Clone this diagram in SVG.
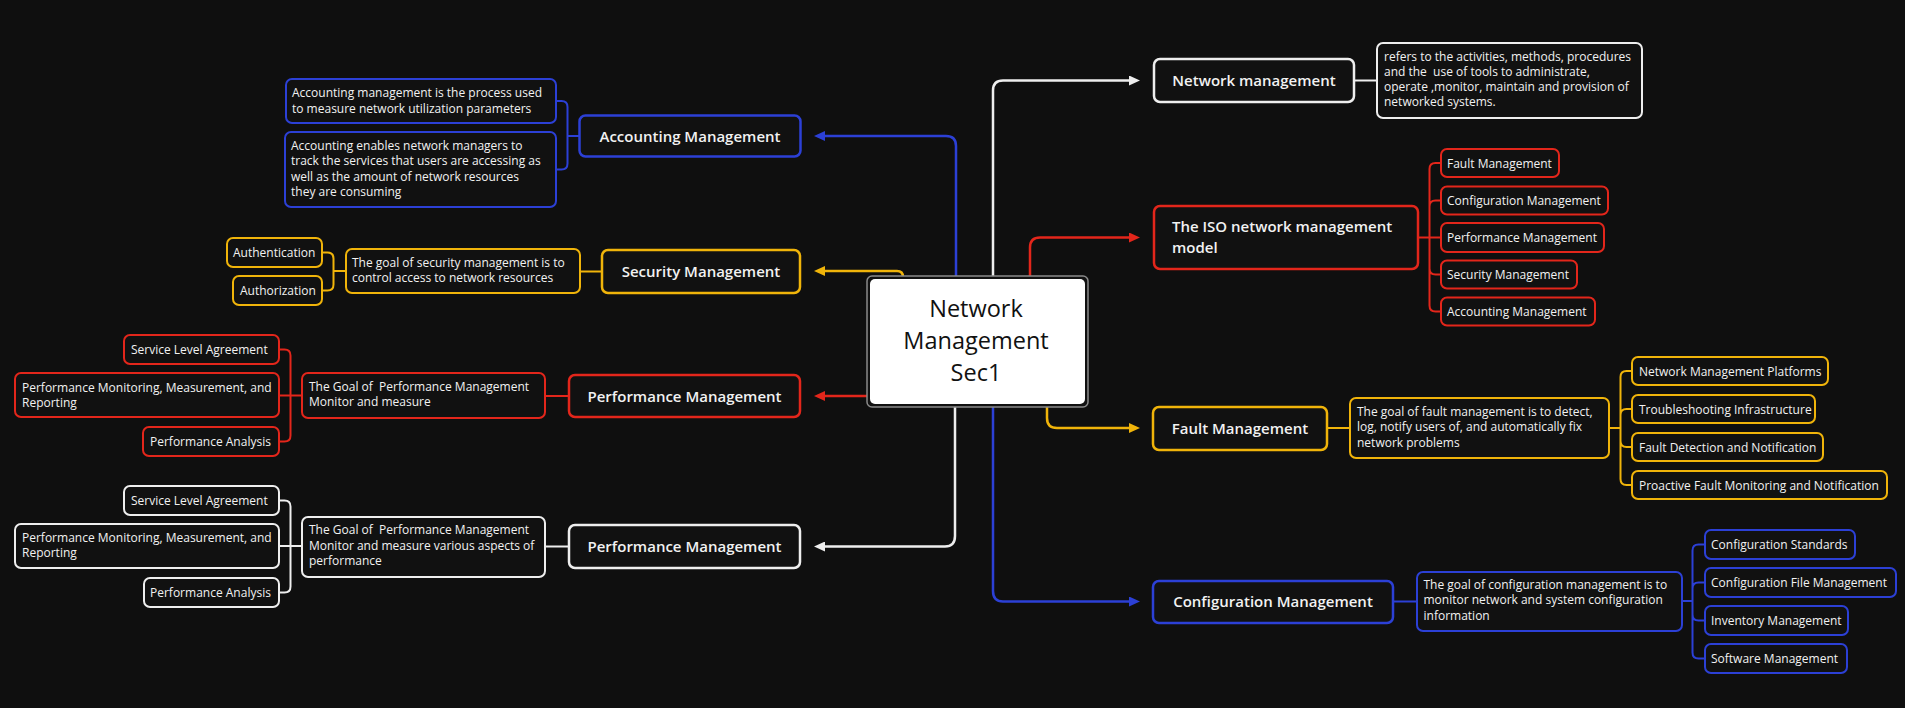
<svg xmlns="http://www.w3.org/2000/svg" width="1905" height="708" viewBox="0 0 1905 708">
<defs>
<style>
.t{font-family:"Open Sans","Noto Sans","Liberation Sans",sans-serif;fill:#f2f2f2;white-space:pre}
.s{font-size:12px}
.h{font-size:15px;font-weight:600}
.m{text-anchor:middle}
.c{font-size:23.5px;font-weight:500;fill:#111;text-anchor:middle}
.bx{fill:#111}
.nd{fill:#111;stroke-width:2.5}
.sb{stroke-width:2}
.B{stroke:#2c40d6}
.R{stroke:#e3261b}
.Y{stroke:#f0b40a}
.W{stroke:#eeeeee}
.ln{fill:none;stroke-width:2.5}
.br{fill:none;stroke-width:2}
</style>
<marker id="aB" viewBox="0 0 11 10" refX="0" refY="5" markerWidth="11" markerHeight="10" markerUnits="userSpaceOnUse" orient="auto"><path d="M0,0L11,5L0,10z" fill="#2c40d6"/></marker>
<marker id="aR" viewBox="0 0 11 10" refX="0" refY="5" markerWidth="11" markerHeight="10" markerUnits="userSpaceOnUse" orient="auto"><path d="M0,0L11,5L0,10z" fill="#e3261b"/></marker>
<marker id="aY" viewBox="0 0 11 10" refX="0" refY="5" markerWidth="11" markerHeight="10" markerUnits="userSpaceOnUse" orient="auto"><path d="M0,0L11,5L0,10z" fill="#f0b40a"/></marker>
<marker id="aW" viewBox="0 0 11 10" refX="0" refY="5" markerWidth="11" markerHeight="10" markerUnits="userSpaceOnUse" orient="auto"><path d="M0,0L11,5L0,10z" fill="#eeeeee"/></marker>
</defs>
<rect width="1905" height="708" fill="#0f0f0f"/>

<g id="connectors">
<!-- main arrows -->
<path class="ln B" d="M956,277V146Q956,136 946,136H825" marker-end="url(#aB)"/>
<path class="ln Y" d="M903,277Q903,271 897,271H825" marker-end="url(#aY)"/>
<path class="ln R" d="M868,396H825" marker-end="url(#aR)"/>
<path class="ln W" d="M955,406V536Q955,546.5 945,546.5H825" marker-end="url(#aW)"/>
<path class="ln W" d="M993,277V90.5Q993,80.5 1003,80.5H1129" marker-end="url(#aW)"/>
<path class="ln R" d="M1030,277V247.5Q1030,237.5 1040,237.5H1129" marker-end="url(#aR)"/>
<path class="ln Y" d="M1047,406V418Q1047,428 1057,428H1129" marker-end="url(#aY)"/>
<path class="ln B" d="M993,406V591Q993,601.5 1003,601.5H1129" marker-end="url(#aB)"/>
<!-- accounting -->
<path class="br B" d="M579,136H567.5M567.5,136V107Q567.5,101 561.5,101H556M567.5,136V163.5Q567.5,169.5 561.5,169.5H556"/>
<!-- security -->
<path class="br Y" d="M602,271.5H580M346,271H333.5M333.5,271V258.5Q333.5,252.5 327.5,252.5H322M333.5,271V284.5Q333.5,290.5 327.5,290.5H322"/>
<!-- performance red -->
<path class="br R" d="M569,396H545M302,395.5H279M290.5,395.5V355.5Q290.5,349.5 284.5,349.5H279M290.5,395.5V435.5Q290.5,441.5 284.5,441.5H279"/>
<!-- performance white -->
<path class="br W" d="M569,546.5H545M302,546H279M290.5,546V506.5Q290.5,500.5 284.5,500.5H279M290.5,546V586.5Q290.5,592.5 284.5,592.5H279"/>
<!-- network management -->
<path class="br W" d="M1354,80.5H1377"/>
<!-- ISO -->
<path class="br R" d="M1418,237.5H1441M1429.5,237.5V169Q1429.5,163 1435.5,163H1441M1429.5,237.5V206.5Q1429.5,200.5 1435.5,200.5H1441M1429.5,237.5V268.5Q1429.5,274.5 1435.5,274.5H1441M1429.5,237.5V305.5Q1429.5,311.5 1435.5,311.5H1441"/>
<!-- fault -->
<path class="br Y" d="M1327,428H1350M1609,428H1620.5M1620.5,428V377Q1620.5,371 1626.5,371H1632M1620.5,428V415Q1620.5,409 1626.5,409H1632M1620.5,428V441Q1620.5,447 1626.5,447H1632M1620.5,428V479Q1620.5,485 1626.5,485H1632"/>
<!-- config -->
<path class="br B" d="M1393,601.5H1417M1682,601H1692.5M1692.5,601V550.5Q1692.5,544.5 1698.5,544.5H1705M1692.5,601V588.5Q1692.5,582.5 1698.5,582.5H1705M1692.5,601V614.5Q1692.5,620.5 1698.5,620.5H1705M1692.5,601V652.5Q1692.5,658.5 1698.5,658.5H1705"/>
</g>

<g id="center">
<rect x="867" y="276" width="221" height="131" rx="5" fill="#111" stroke="#8a8a8a" stroke-width="1.5"/>
<rect x="870" y="279" width="215" height="125" rx="5" fill="#ffffff"/>
<text class="t c" x="976" y="317">Network</text>
<text class="t c" x="976" y="349">Management</text>
<text class="t c" x="976" y="381">Sec1</text>
</g>

<!-- Accounting (blue, left) -->
<g id="acc-node"><rect class="nd B" x="579.5" y="115.5" width="221" height="41" rx="6"/><text class="t h m" x="690" y="141.5">Accounting Management</text></g>
<g id="acc-desc1"><rect class="bx sb B" x="286" y="79" width="270" height="44" rx="6"/><text class="t s" x="292" y="97">Accounting management is the process used</text><text class="t s" x="292" y="112.5">to measure network utilization parameters</text></g>
<g id="acc-desc2"><rect class="bx sb B" x="285" y="132" width="271" height="75" rx="6"/><text class="t s" x="291" y="149.5">Accounting enables network managers to</text><text class="t s" x="291" y="165">track the services that users are accessing as</text><text class="t s" x="291" y="180.5">well as the amount of network resources</text><text class="t s" x="291" y="196">they are consuming</text></g>

<!-- Security (yellow, left) -->
<g id="sec-node"><rect class="nd Y" x="602" y="250" width="198" height="43" rx="6"/><text class="t h m" x="701" y="277">Security Management</text></g>
<g id="sec-desc"><rect class="bx sb Y" x="346" y="249" width="234" height="44" rx="6"/><text class="t s" x="352" y="267">The goal of security management is to</text><text class="t s" x="352" y="282">control access to network resources</text></g>
<g id="sec-authn"><rect class="bx sb Y" x="227" y="238" width="95" height="29" rx="6"/><text class="t s" x="233" y="257">Authentication</text></g>
<g id="sec-authz"><rect class="bx sb Y" x="233" y="276" width="89" height="29" rx="6"/><text class="t s" x="240" y="295">Authorization</text></g>

<!-- Performance (red, left) -->
<g id="perf-node"><rect class="nd R" x="569" y="375" width="231" height="42" rx="6"/><text class="t h m" x="684.5" y="401.5">Performance Management</text></g>
<g id="perf-desc"><rect class="bx sb R" x="302" y="373" width="243" height="45" rx="6"/><text class="t s" x="309" y="391">The Goal of  Performance Management</text><text class="t s" x="309" y="406">Monitor and measure</text></g>
<g id="perf-sla"><rect class="bx sb R" x="124" y="335" width="155" height="29" rx="6"/><text class="t s" x="131" y="354">Service Level Agreement</text></g>
<g id="perf-pmmr"><rect class="bx sb R" x="15" y="373" width="264" height="44" rx="6"/><text class="t s" x="22" y="391.5">Performance Monitoring, Measurement, and</text><text class="t s" x="22" y="406.5">Reporting</text></g>
<g id="perf-pa"><rect class="bx sb R" x="143" y="427" width="136" height="29" rx="6"/><text class="t s" x="150" y="446">Performance Analysis</text></g>

<!-- Performance (white, left) -->
<g id="perf2-node"><rect class="nd W" x="569" y="525" width="231" height="43" rx="6"/><text class="t h m" x="684.5" y="552">Performance Management</text></g>
<g id="perf2-desc"><rect class="bx sb W" x="302" y="517" width="243" height="60" rx="6"/><text class="t s" x="309" y="534">The Goal of  Performance Management</text><text class="t s" x="309" y="549.5">Monitor and measure various aspects of</text><text class="t s" x="309" y="565">performance</text></g>
<g id="perf2-sla"><rect class="bx sb W" x="124" y="486" width="155" height="29" rx="6"/><text class="t s" x="131" y="505">Service Level Agreement</text></g>
<g id="perf2-pmmr"><rect class="bx sb W" x="15" y="524" width="264" height="44" rx="6"/><text class="t s" x="22" y="542">Performance Monitoring, Measurement, and</text><text class="t s" x="22" y="557">Reporting</text></g>
<g id="perf2-pa"><rect class="bx sb W" x="144" y="578" width="135" height="29" rx="6"/><text class="t s" x="150" y="597">Performance Analysis</text></g>

<!-- Network management (white, right) -->
<g id="nm-node"><rect class="nd W" x="1154" y="59" width="200" height="43" rx="6"/><text class="t h m" x="1254" y="86">Network management</text></g>
<g id="nm-desc"><rect class="bx sb W" x="1377" y="43" width="265" height="75" rx="6"/><text class="t s" x="1384" y="60.5">refers to the activities, methods, procedures</text><text class="t s" x="1384" y="76">and the  use of tools to administrate,</text><text class="t s" x="1384" y="91">operate ,monitor, maintain and provision of</text><text class="t s" x="1384" y="106">networked systems.</text></g>

<!-- ISO (red, right) -->
<g id="iso-node"><rect class="nd R" x="1154" y="206" width="264" height="63" rx="6"/><text class="t h" x="1172" y="232">The ISO network management</text><text class="t h" x="1172" y="252.5">model</text></g>
<g id="iso-fault"><rect class="bx sb R" x="1441" y="149" width="118" height="28" rx="6"/><text class="t s" x="1447" y="167.5">Fault Management</text></g>
<g id="iso-config"><rect class="bx sb R" x="1441" y="186.5" width="167" height="28" rx="6"/><text class="t s" x="1447" y="205">Configuration Management</text></g>
<g id="iso-perf"><rect class="bx sb R" x="1441" y="223" width="163" height="29" rx="6"/><text class="t s" x="1447" y="242">Performance Management</text></g>
<g id="iso-sec"><rect class="bx sb R" x="1441" y="260.5" width="136" height="28" rx="6"/><text class="t s" x="1447" y="279">Security Management</text></g>
<g id="iso-acc"><rect class="bx sb R" x="1441" y="297.5" width="154" height="28" rx="6"/><text class="t s" x="1447" y="316">Accounting Management</text></g>

<!-- Fault (yellow, right) -->
<g id="fault-node"><rect class="nd Y" x="1153" y="407" width="174" height="43" rx="6"/><text class="t h m" x="1240" y="433.5">Fault Management</text></g>
<g id="fault-desc"><rect class="bx sb Y" x="1350" y="398" width="259" height="60" rx="6"/><text class="t s" x="1357" y="416">The goal of fault management is to detect,</text><text class="t s" x="1357" y="431">log, notify users of, and automatically fix</text><text class="t s" x="1357" y="446.5">network problems</text></g>
<g id="fault-nmp"><rect class="bx sb Y" x="1632" y="357" width="196" height="28" rx="6"/><text class="t s" x="1639" y="375.5">Network Management Platforms</text></g>
<g id="fault-ti"><rect class="bx sb Y" x="1632" y="395" width="183" height="28" rx="6"/><text class="t s" x="1639" y="413.5">Troubleshooting Infrastructure</text></g>
<g id="fault-fdn"><rect class="bx sb Y" x="1632" y="433" width="191" height="28" rx="6"/><text class="t s" x="1639" y="451.5">Fault Detection and Notification</text></g>
<g id="fault-pfmn"><rect class="bx sb Y" x="1632" y="471" width="255" height="28" rx="6"/><text class="t s" x="1639" y="489.5">Proactive Fault Monitoring and Notification</text></g>

<!-- Configuration (blue, right) -->
<g id="config-node"><rect class="nd B" x="1153" y="581" width="240" height="42" rx="6"/><text class="t h m" x="1273" y="607">Configuration Management</text></g>
<g id="config-desc"><rect class="bx sb B" x="1417" y="572" width="265" height="59" rx="6"/><text class="t s" x="1423.5" y="589">The goal of configuration management is to</text><text class="t s" x="1423.5" y="604">monitor network and system configuration</text><text class="t s" x="1423.5" y="619.5">information</text></g>
<g id="config-cs"><rect class="bx sb B" x="1705" y="530" width="150" height="29" rx="6"/><text class="t s" x="1711" y="549">Configuration Standards</text></g>
<g id="config-cfm"><rect class="bx sb B" x="1705" y="568" width="191" height="29" rx="6"/><text class="t s" x="1711" y="587">Configuration File Management</text></g>
<g id="config-im"><rect class="bx sb B" x="1705" y="606" width="143" height="29" rx="6"/><text class="t s" x="1711" y="625">Inventory Management</text></g>
<g id="config-sm"><rect class="bx sb B" x="1705" y="644" width="142" height="29" rx="6"/><text class="t s" x="1711" y="663">Software Management</text></g>
</svg>
